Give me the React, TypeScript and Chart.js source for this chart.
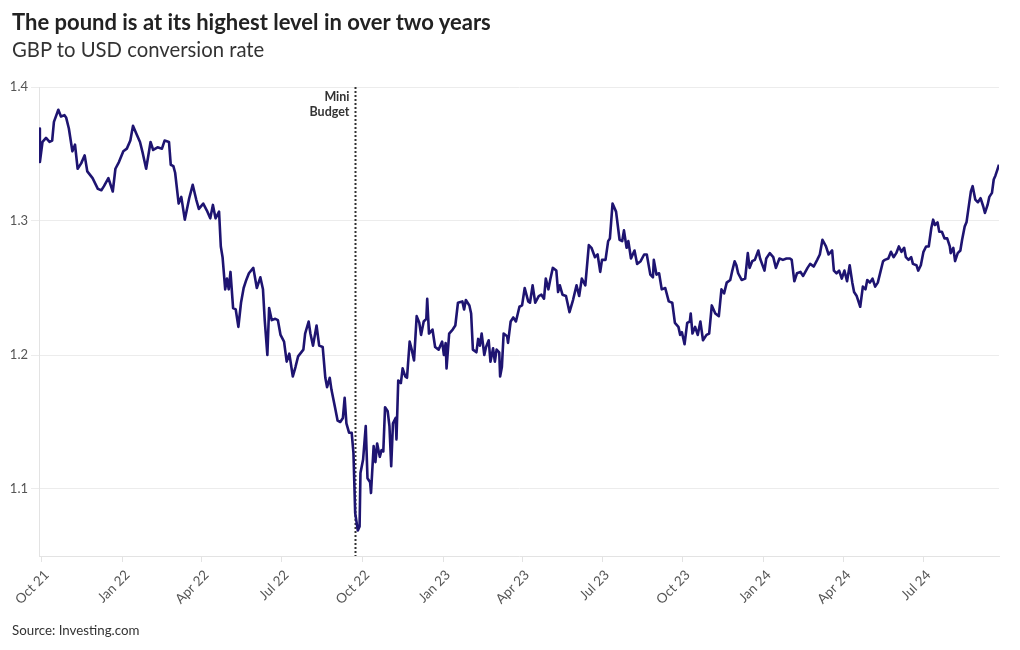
import React, { useEffect, useRef } from "react";
import { Chart, registerables } from "chart.js";
Chart.register(...registerables);

// ---- Data ----
const DATES: string[] = [
  "2021-09-28","2021-09-29","2021-10-02","2021-10-06","2021-10-10","2021-10-13","2021-10-15","2021-10-20","2021-10-23","2021-10-27",
  "2021-10-29","2021-11-01","2021-11-05","2021-11-08","2021-11-11","2021-11-15","2021-11-19","2021-11-22","2021-11-28","2021-12-04",
  "2021-12-08","2021-12-11","2021-12-16","2021-12-21","2021-12-24","2021-12-28","2022-01-02","2022-01-06","2022-01-10","2022-01-13",
  "2022-01-17","2022-01-21","2022-01-24","2022-01-28","2022-02-02","2022-02-05","2022-02-10","2022-02-15","2022-02-18","2022-02-23",
  "2022-02-25","2022-02-28","2022-03-02","2022-03-06","2022-03-09","2022-03-13","2022-03-18","2022-03-22","2022-03-26","2022-03-29",
  "2022-04-03","2022-04-07","2022-04-11","2022-04-14","2022-04-17","2022-04-21","2022-04-23","2022-04-25","2022-04-28","2022-04-30",
  "2022-05-02","2022-05-04","2022-05-07","2022-05-10","2022-05-13","2022-05-16","2022-05-19","2022-05-22","2022-05-25","2022-05-30",
  "2022-06-03","2022-06-07","2022-06-10","2022-06-12","2022-06-15","2022-06-17","2022-06-20","2022-06-24","2022-06-27","2022-06-30",
  "2022-07-04","2022-07-07","2022-07-10","2022-07-14","2022-07-17","2022-07-20","2022-07-26","2022-07-28","2022-08-01","2022-08-03",
  "2022-08-06","2022-08-10","2022-08-13","2022-08-17","2022-08-20","2022-08-22","2022-08-25","2022-08-27","2022-08-31","2022-09-03",
  "2022-09-06","2022-09-09","2022-09-11","2022-09-13","2022-09-16","2022-09-19","2022-09-21","2022-09-23","2022-09-26","2022-09-28",
  "2022-09-29","2022-10-02","2022-10-05","2022-10-07","2022-10-10","2022-10-11","2022-10-14","2022-10-16","2022-10-18","2022-10-21",
  "2022-10-23","2022-10-25","2022-10-27","2022-10-30","2022-11-01","2022-11-03","2022-11-05","2022-11-08","2022-11-09","2022-11-11",
  "2022-11-14","2022-11-16","2022-11-19","2022-11-21","2022-11-24","2022-11-26","2022-11-29","2022-12-02","2022-12-05","2022-12-07",
  "2022-12-10","2022-12-13","2022-12-14","2022-12-16","2022-12-20","2022-12-23","2022-12-27","2022-12-31","2023-01-02","2023-01-04",
  "2023-01-05","2023-01-08","2023-01-12","2023-01-15","2023-01-18","2023-01-23","2023-01-25","2023-01-27","2023-01-31","2023-02-02",
  "2023-02-04","2023-02-08","2023-02-10","2023-02-12","2023-02-14","2023-02-17","2023-02-19","2023-02-22","2023-02-24","2023-02-27",
  "2023-03-01","2023-03-03","2023-03-06","2023-03-07","2023-03-09","2023-03-11","2023-03-15","2023-03-16","2023-03-19","2023-03-22",
  "2023-03-25","2023-03-29","2023-04-01","2023-04-04","2023-04-08","2023-04-10","2023-04-13","2023-04-16","2023-04-20","2023-04-23",
  "2023-04-26","2023-04-28","2023-05-01","2023-05-03","2023-05-06","2023-05-10","2023-05-12","2023-05-14","2023-05-17","2023-05-21",
  "2023-05-25","2023-05-29","2023-06-02","2023-06-05","2023-06-08","2023-06-12","2023-06-16","2023-06-19","2023-06-23","2023-06-26",
  "2023-06-29","2023-07-01","2023-07-05","2023-07-08","2023-07-10","2023-07-13","2023-07-17","2023-07-21","2023-07-24","2023-07-26",
  "2023-07-29","2023-07-31","2023-08-03","2023-08-07","2023-08-10","2023-08-14","2023-08-18","2023-08-21","2023-08-25","2023-08-28",
  "2023-08-29","2023-09-01","2023-09-04","2023-09-07","2023-09-11","2023-09-15","2023-09-19","2023-09-22","2023-09-26","2023-09-28",
  "2023-09-30","2023-10-03","2023-10-06","2023-10-09","2023-10-10","2023-10-12","2023-10-15","2023-10-18","2023-10-21","2023-10-24",
  "2023-10-28","2023-10-31","2023-11-03","2023-11-07","2023-11-11","2023-11-14","2023-11-17","2023-11-20","2023-11-24","2023-11-26",
  "2023-11-29","2023-12-01","2023-12-03","2023-12-07","2023-12-11","2023-12-14","2023-12-16","2023-12-19","2023-12-22","2023-12-26",
  "2023-12-28","2024-01-02","2024-01-04","2024-01-08","2024-01-12","2024-01-15","2024-01-19","2024-01-23","2024-01-27","2024-01-31",
  "2024-02-02","2024-02-05","2024-02-08","2024-02-12","2024-02-15","2024-02-20","2024-02-23","2024-02-27","2024-03-02","2024-03-05",
  "2024-03-08","2024-03-12","2024-03-15","2024-03-19","2024-03-21","2024-03-24","2024-03-27","2024-03-30","2024-04-02","2024-04-05",
  "2024-04-08","2024-04-11","2024-04-13","2024-04-16","2024-04-20","2024-04-23","2024-04-26","2024-04-28","2024-05-01","2024-05-04",
  "2024-05-07","2024-05-10","2024-05-13","2024-05-16","2024-05-18","2024-05-22","2024-05-25","2024-05-28","2024-05-31","2024-06-03",
  "2024-06-06","2024-06-09","2024-06-11","2024-06-14","2024-06-17","2024-06-19","2024-06-23","2024-06-25","2024-06-28","2024-07-01",
  "2024-07-04","2024-07-07","2024-07-10","2024-07-12","2024-07-14","2024-07-17","2024-07-19","2024-07-22","2024-07-25","2024-07-28",
  "2024-07-31","2024-08-01","2024-08-04","2024-08-06","2024-08-09","2024-08-12","2024-08-14","2024-08-17","2024-08-19","2024-08-22",
  "2024-08-24","2024-08-26","2024-08-29","2024-09-01","2024-09-04","2024-09-07","2024-09-09","2024-09-12","2024-09-14","2024-09-17",
  "2024-09-19","2024-09-21","2024-09-23","2024-09-25",
];

const GBP_USD: number[] = [
  1.369,1.344,1.359,1.362,1.359,1.360,1.374,1.383,1.378,1.379,
  1.377,1.369,1.352,1.357,1.339,1.343,1.349,1.337,1.332,1.324,
  1.323,1.326,1.332,1.322,1.339,1.344,1.352,1.354,1.360,1.371,
  1.365,1.359,1.351,1.339,1.359,1.353,1.355,1.354,1.360,1.359,
  1.342,1.341,1.336,1.313,1.318,1.301,1.317,1.327,1.316,1.309,
  1.313,1.308,1.302,1.312,1.302,1.307,1.281,1.273,1.249,1.257,
  1.249,1.262,1.235,1.234,1.221,1.239,1.250,1.256,1.261,1.265,
  1.250,1.258,1.249,1.226,1.200,1.235,1.226,1.227,1.226,1.215,
  1.210,1.195,1.201,1.184,1.191,1.199,1.204,1.216,1.225,1.216,
  1.207,1.222,1.207,1.206,1.183,1.176,1.183,1.174,1.161,1.151,
  1.150,1.153,1.168,1.149,1.142,1.142,1.127,1.082,1.069,1.072,
  1.112,1.122,1.147,1.108,1.105,1.097,1.132,1.120,1.134,1.124,
  1.129,1.128,1.161,1.158,1.147,1.117,1.149,1.153,1.137,1.181,
  1.179,1.190,1.184,1.183,1.210,1.205,1.196,1.229,1.224,1.215,
  1.225,1.227,1.242,1.216,1.219,1.206,1.204,1.210,1.200,1.209,
  1.190,1.216,1.219,1.222,1.239,1.240,1.234,1.241,1.237,1.231,
  1.204,1.202,1.212,1.207,1.216,1.200,1.206,1.211,1.195,1.205,
  1.195,1.204,1.202,1.184,1.191,1.216,1.214,1.209,1.225,1.228,
  1.225,1.236,1.237,1.250,1.240,1.239,1.252,1.239,1.244,1.245,
  1.242,1.257,1.249,1.256,1.265,1.263,1.247,1.252,1.245,1.244,
  1.232,1.241,1.252,1.244,1.257,1.252,1.282,1.280,1.273,1.275,
  1.262,1.271,1.271,1.285,1.287,1.313,1.307,1.286,1.285,1.293,
  1.280,1.285,1.272,1.278,1.268,1.270,1.275,1.275,1.260,1.258,
  1.271,1.260,1.261,1.249,1.250,1.240,1.239,1.224,1.221,1.215,
  1.217,1.208,1.224,1.225,1.231,1.216,1.221,1.215,1.225,1.211,
  1.215,1.216,1.237,1.231,1.229,1.249,1.246,1.254,1.256,1.262,
  1.270,1.267,1.261,1.256,1.257,1.276,1.265,1.270,1.271,1.278,
  1.272,1.263,1.272,1.276,1.273,1.265,1.272,1.271,1.272,1.272,
  1.271,1.255,1.261,1.262,1.259,1.265,1.268,1.266,1.271,1.275,
  1.286,1.281,1.275,1.278,1.263,1.261,1.263,1.257,1.263,1.255,
  1.267,1.254,1.247,1.244,1.236,1.251,1.249,1.256,1.254,1.257,
  1.251,1.254,1.262,1.270,1.271,1.272,1.277,1.273,1.276,1.281,
  1.277,1.280,1.273,1.271,1.273,1.268,1.267,1.263,1.267,1.277,
  1.281,1.281,1.295,1.301,1.297,1.299,1.292,1.292,1.287,1.287,
  1.281,1.276,1.280,1.270,1.276,1.278,1.286,1.296,1.299,1.313,
  1.322,1.326,1.316,1.314,1.317,1.311,1.306,1.312,1.318,1.321,
  1.331,1.334,1.338,1.342,
];

const X_TICK_DATES: string[] = [
  "2021-10-01","2022-01-01","2022-04-01","2022-07-01","2022-10-01","2023-01-01",
  "2023-04-01","2023-07-01","2023-10-01","2024-01-01","2024-04-01","2024-07-01",
];
const X_TICK_LABELS: string[] = [
  "Oct 21","Jan 22","Apr 22","Jul 22","Oct 22","Jan 23",
  "Apr 23","Jul 23","Oct 23","Jan 24","Apr 24","Jul 24",
];
const Y_TICKS: number[] = [1.1, 1.2, 1.3, 1.4];
const Y_MIN = 1.05;
const Y_MAX = 1.4;
const EVENT_DATE = "2022-09-23";
const EVENT_LABEL: string[] = ["Mini", "Budget"];

const TITLE = "The pound is at its highest level in over two years";
const SUBTITLE = "GBP to USD conversion rate";
const SOURCE = "Source: Investing.com";

const FONT = "Lato, 'Source Sans Pro', 'Noto Sans', sans-serif";
const LINE_COLOR = "#1e1471";

const toDay = (s: string): number => {
  const [y, m, d] = s.split("-").map(Number);
  return Date.UTC(y, m - 1, d) / 86400000;
};

const eventPlugin = {
  id: "eventLine",
  beforeDatasetsDraw(chart: any) {
    const { ctx, chartArea, scales } = chart;
    const x = Math.round(scales.x.getPixelForValue(toDay(EVENT_DATE))) + 0.5;
    ctx.save();
    ctx.strokeStyle = "#333333";
    ctx.lineWidth = 2;
    ctx.setLineDash([2, 2]);
    ctx.beginPath();
    ctx.moveTo(x, chartArea.top);
    ctx.lineTo(x, chartArea.bottom);
    ctx.stroke();
    ctx.setLineDash([]);
    ctx.fillStyle = "#333333";
    ctx.font = `bold 12.5px ${FONT}`;
    ctx.textAlign = "right";
    ctx.textBaseline = "alphabetic";
    EVENT_LABEL.forEach((t, i) => {
      ctx.fillText(t, x - 6, chartArea.top + 14 + i * 15);
    });
    ctx.restore();
  },
};

export default function App() {
  const canvasRef = useRef<HTMLCanvasElement | null>(null);

  useEffect(() => {
    if (!canvasRef.current) return;
    const points = DATES.map((d, i) => ({ x: toDay(d), y: GBP_USD[i] }));
    const xMin = toDay(DATES[0]);
    const xMax = toDay(DATES[DATES.length - 1]);
    const chart = new Chart(canvasRef.current, {
      type: "line",
      data: {
        datasets: [
          {
            data: points,
            borderColor: LINE_COLOR,
            borderWidth: 2.6,
            pointRadius: 0,
            tension: 0,
            borderJoinStyle: "round",
            fill: false,
          },
        ],
      },
      options: {
        animation: false,
        responsive: false,
        maintainAspectRatio: false,
        layout: { padding: { top: 87, right: 21, bottom: 0, left: 0 } },
        plugins: {
          legend: { display: false },
          tooltip: { enabled: false },
          title: { display: false },
        },
        scales: {
          x: {
            type: "linear",
            min: xMin,
            max: xMax,
            afterBuildTicks: (scale: any) => {
              scale.ticks = X_TICK_DATES.map((d) => ({ value: toDay(d) }));
            },
            afterFit: (scale: any) => {
              scale.height = 94;
            },
            ticks: {
              autoSkip: false,
              minRotation: 45,
              maxRotation: 45,
              padding: 5,
              labelOffset: 5,
              color: "#555555",
              font: { family: FONT, size: 13.5 },
              callback: (_v: any, i: number) => X_TICK_LABELS[i],
            },
            grid: {
              display: true,
              drawOnChartArea: false,
              drawTicks: true,
              tickLength: 6,
              color: "#e3e3e3",
            },
            border: { display: true, color: "#e3e3e3" },
          },
          y: {
            type: "linear",
            min: Y_MIN,
            max: Y_MAX,
            afterBuildTicks: (scale: any) => {
              scale.ticks = Y_TICKS.map((v) => ({ value: v }));
            },
            afterFit: (scale: any) => {
              scale.width = 39;
            },
            ticks: {
              padding: 3,
              color: "#555555",
              font: { family: FONT, size: 13 },
              callback: (v: any) => Number(v).toFixed(1),
            },
            grid: {
              color: "#ececec",
              tickLength: 8,
            },
            border: { display: true, color: "#e3e3e3" },
          },
        },
      },
      plugins: [eventPlugin],
    });
    return () => chart.destroy();
  }, []);

  return (
    <div
      style={{
        position: "absolute",
        left: 0,
        top: 0,
        width: 1020,
        height: 650,
        background: "#ffffff",
        fontFamily: FONT,
        overflow: "hidden",
      }}
    >
      <canvas
        ref={canvasRef}
        width={1020}
        height={650}
        style={{ position: "absolute", left: 0, top: 0, width: 1020, height: 650 }}
      />
      <div
        style={{
          position: "absolute",
          left: 12,
          top: 9,
          fontSize: 22,
          lineHeight: "26px",
          fontWeight: 700,
          color: "#222222",
          whiteSpace: "nowrap",
        }}
      >
        {TITLE}
      </div>
      <div
        style={{
          position: "absolute",
          left: 12,
          top: 37,
          fontSize: 20.3,
          lineHeight: "24px",
          fontWeight: 400,
          color: "#333333",
          whiteSpace: "nowrap",
        }}
      >
        {SUBTITLE}
      </div>
      <div
        style={{
          position: "absolute",
          left: 12,
          top: 622,
          fontSize: 13.3,
          lineHeight: "17px",
          fontWeight: 400,
          color: "#333333",
          whiteSpace: "nowrap",
        }}
      >
        {SOURCE}
      </div>
    </div>
  );
}
